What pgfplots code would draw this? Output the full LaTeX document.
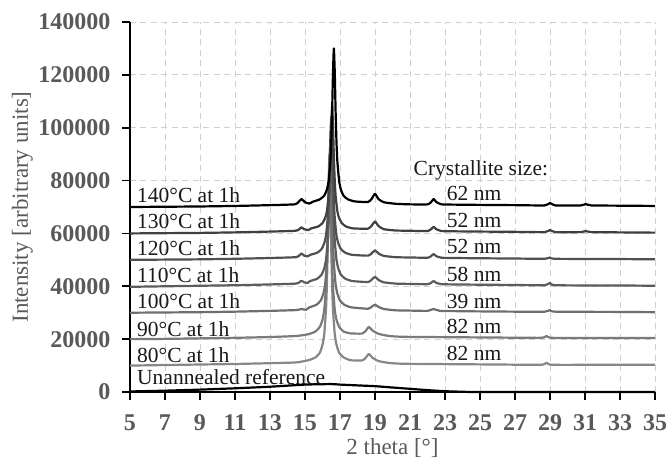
\documentclass[border=0pt]{standalone}
\usepackage{fontspec}
\setmainfont{Liberation Serif}
\usepackage{pgfplots}
\pgfplotsset{compat=1.18}
\definecolor{tickgray}{HTML}{595959}
\definecolor{gridgray}{HTML}{D0D0D0}
\definecolor{c130}{HTML}{404040}
\definecolor{c120}{HTML}{505050}
\definecolor{c110}{HTML}{5C5C5C}
\definecolor{c100}{HTML}{6E6E6E}
\definecolor{c90}{HTML}{7A7A7A}
\definecolor{c80}{HTML}{878787}

\begin{document}
\begin{tikzpicture}
\begin{axis}[
  name=ax,
  scale only axis,
  width=525pt, height=370pt,
  xmin=5, xmax=35, ymin=0, ymax=140000,
  xtick={5,7,...,35},
  ytick={0,20000,...,140000},
  scaled y ticks=false,
  /pgf/number format/fixed,
  /pgf/number format/1000 sep={},
  /pgf/number format/assume math mode=true,
  axis lines=left,
  axis line style={-, black},
  x axis line style={line width=2.6pt},
  y axis line style={line width=1.8pt},
  tick align=outside,
  major tick length=8pt,
  tick style={black, line width=1.8pt},
  ticklabel style={font=\fontsize{24}{24}\selectfont\bfseries, text=tickgray},
  yticklabel style={xshift=-8pt},
  xticklabel style={yshift=-11pt},
  grid=major,
  major grid style={gridgray, line width=0.8pt, dash pattern=on 6pt off 4.5pt},
  xlabel={2 theta [°]},
  ylabel={Intensity [arbitrary units]},
  label style={font=\fontsize{23}{23}\selectfont, text=tickgray},
  xlabel style={at={(axis description cs:0.5,-0.1514)}, anchor=center},
  ylabel style={at={(axis description cs:-0.205,0.5)}, anchor=center},
  every axis plot/.append style={line width=2.2pt, line join=round, smooth, tension=0.3},
  clip=false,
]
% unannealed reference
\addplot[black] coordinates {
(5,200)(7,500)(9,900)(11,1400)(13,2000)(15,2800)(16.5,3000)(17,2800)(18,2500)(19,2200)(20,1700)(21,1200)(22,700)(23,300)(24,100)(25,0)(35,0)};
% 80 C
\addplot[c80] coordinates {
(5,10000)(7,10200)(9,10400)(11,10600)(13,10900)(14.5,11200)(15.2,12030)(15.6,13110)(15.85,14890)(16.0,17860)(16.1,21870)(16.2,31150)(16.25,40270)(16.3,54870)(16.35,73850)(16.4,85000)(16.45,73850)(16.5,54870)(16.55,40270)(16.6,31150)(16.7,21870)(16.8,17860)(16.95,14890)(17.2,13110)(17.6,12030)(18.25,11900)(18.45,12800)(18.65,14400)(18.85,13000)(19.2,11700)(19.8,11000)(20.5,10700)(22,10600)(24,10500)(26,10400)(28.5,10300)(28.8,11100)(29.1,10300)(32,10300)(35,10300)};
% 90 C
\addplot[c90] coordinates {
(5,20000)(7,20100)(9,20300)(11,20500)(13,20800)(14.5,21200)(15.2,21880)(15.6,22900)(15.85,24660)(16.0,27340)(16.1,31080)(16.2,39720)(16.25,48220)(16.3,61820)(16.35,79500)(16.4,90000)(16.45,79500)(16.5,61820)(16.55,48220)(16.6,39720)(16.7,31080)(16.8,27340)(16.95,24660)(17.2,22900)(17.6,22180)(18.25,22100)(18.45,23000)(18.65,24600)(18.85,23300)(19.2,22000)(19.8,21200)(20.5,20900)(22,20800)(24,20700)(26,20600)(28.5,20500)(28.8,21200)(29.1,20500)(32,20400)(35,20400)};
% 100 C
\addplot[c100] coordinates {
(5,30000)(7,30100)(9,30200)(11,30400)(13,30700)(14.5,31000)(14.8,31400)(15.05,31100)(15.25,32030)(15.65,32990)(15.9,34640)(16.05,37230)(16.15,40690)(16.25,48700)(16.3,56570)(16.35,69170)(16.4,85550)(16.45,95000)(16.5,85550)(16.55,69170)(16.6,56570)(16.65,48700)(16.75,40690)(16.85,37230)(17.0,34640)(17.25,32990)(17.65,32030)(18.6,31500)(18.8,32200)(19.0,33000)(19.2,32200)(19.5,31400)(20.2,30900)(21,30800)(22.0,30700)(22.35,31400)(22.7,30700)(23.5,30600)(25,30500)(27,30400)(28.7,30400)(29.0,31000)(29.3,30400)(33,30300)(35,30200)};
% 110 C
\addplot[c110] coordinates {
(5,39800)(7,40000)(9,40200)(11,40400)(13,40700)(14.45,41000)(14.65,41400)(14.8,42100)(14.95,41500)(15.15,41300)(15.3,41980)(15.7,42880)(15.95,44410)(16.1,46810)(16.2,50000)(16.3,57370)(16.35,64620)(16.4,76220)(16.45,91300)(16.5,100000)(16.55,91300)(16.6,76220)(16.65,64620)(16.7,57370)(16.8,50000)(16.9,46810)(17.05,44410)(17.3,42880)(17.7,41980)(18.6,41600)(18.8,42400)(19.0,43600)(19.2,42400)(19.5,41500)(20.2,41000)(21,40900)(22.0,40800)(22.2,41300)(22.35,42000)(22.5,41300)(22.8,40800)(23.5,40700)(25,40600)(27,40500)(28.7,40400)(29.0,41300)(29.3,40400)(33,40300)(35,40200)};
% 120 C
\addplot[c120] coordinates {
(5,50000)(7,50100)(9,50200)(11,50400)(13,50700)(14.45,51000)(14.65,51500)(14.8,52400)(14.95,51600)(15.15,51300)(15.3,51900)(15.7,52700)(15.95,54100)(16.1,56300)(16.2,59200)(16.3,65800)(16.35,72300)(16.4,82700)(16.45,96200)(16.5,104000)(16.55,96200)(16.6,82700)(16.65,72300)(16.7,65800)(16.8,59200)(16.9,56300)(17.05,54100)(17.3,52700)(17.7,51900)(18.6,51600)(18.8,52400)(19.0,53600)(19.2,52400)(19.5,51500)(20.2,51000)(21,50900)(22.0,50800)(22.2,51400)(22.35,52200)(22.5,51400)(22.8,50800)(23.5,50700)(25,50600)(27,50500)(28.7,50400)(29.0,50900)(29.3,50400)(33,50300)(35,50200)};
% 130 C
\addplot[c130] coordinates {
(5,60000)(7,60100)(9,60200)(11,60400)(13,60700)(14.45,61000)(14.65,61500)(14.8,62300)(14.95,61600)(15.2,61300)(15.35,61900)(15.75,62600)(16.0,63900)(16.15,65800)(16.25,68350)(16.35,74200)(16.4,79900)(16.45,89100)(16.5,101100)(16.55,108000)(16.6,101100)(16.65,89100)(16.7,79900)(16.75,74200)(16.85,68350)(16.95,65800)(17.1,63900)(17.35,62600)(17.75,61900)(18.6,61800)(18.8,62900)(19.0,64500)(19.2,62800)(19.5,61600)(20.2,61100)(21,61000)(22.0,60900)(22.2,61600)(22.35,62500)(22.5,61600)(22.8,60900)(23.5,60800)(25,60700)(27,60600)(28.7,60500)(29.0,61300)(29.3,60500)(30.75,60500)(31.05,60900)(31.35,60500)(33,60400)(35,60300)};
% 140 C
\addplot[black] coordinates {
(5,70000)(7,70100)(9,70200)(11,70400)(13,70700)(14.4,71000)(14.6,71700)(14.8,73000)(15.0,71800)(15.25,71300)(15.45,72000)(15.85,72900)(16.1,74300)(16.25,76600)(16.35,79800)(16.45,87200)(16.5,94400)(16.55,106000)(16.6,121100)(16.65,130000)(16.7,121100)(16.75,106000)(16.8,94400)(16.85,87200)(16.95,79800)(17.05,76600)(17.2,74300)(17.45,72900)(17.85,72100)(18.6,71900)(18.8,73000)(19.0,75000)(19.2,73000)(19.5,71800)(20.2,71200)(21,71000)(22.0,71000)(22.2,71800)(22.35,73000)(22.5,71900)(22.8,71000)(23.5,70900)(25,70800)(27,70700)(28.7,70600)(29.0,71500)(29.3,70600)(30.75,70600)(31.05,71100)(31.35,70600)(33,70500)(35,70400)};

\begin{scope}[every node/.style={font=\fontsize{21.5}{21.5}\selectfont, text=black!90, inner sep=0pt, anchor=west}]
\node at (axis cs:5.4,74500) {140°C at 1h};
\node at (axis cs:5.4,64500) {130°C at 1h};
\node at (axis cs:5.4,54500) {120°C at 1h};
\node at (axis cs:5.4,44300) {110°C at 1h};
\node at (axis cs:5.4,34400) {100°C at 1h};
\node at (axis cs:5.4,23800) {90°C at 1h};
\node at (axis cs:5.4,14000) {80°C at 1h};
\node at (axis cs:5.4,5700) {Unannealed reference};
\node at (axis cs:21.2,84000) {Crystallite size:};
\node at (axis cs:23.1,75000) {62 nm};
\node at (axis cs:23.1,65000) {52 nm};
\node at (axis cs:23.1,54900) {52 nm};
\node at (axis cs:23.1,44600) {58 nm};
\node at (axis cs:23.1,34400) {39 nm};
\node at (axis cs:23.1,24700) {82 nm};
\node at (axis cs:23.1,14700) {82 nm};
\end{scope}
\end{axis}
\pgfresetboundingbox
\path[use as bounding box] (ax.south west) ++(-130pt,-69pt) rectangle ++(670pt,461pt);
\end{tikzpicture}
\end{document}
